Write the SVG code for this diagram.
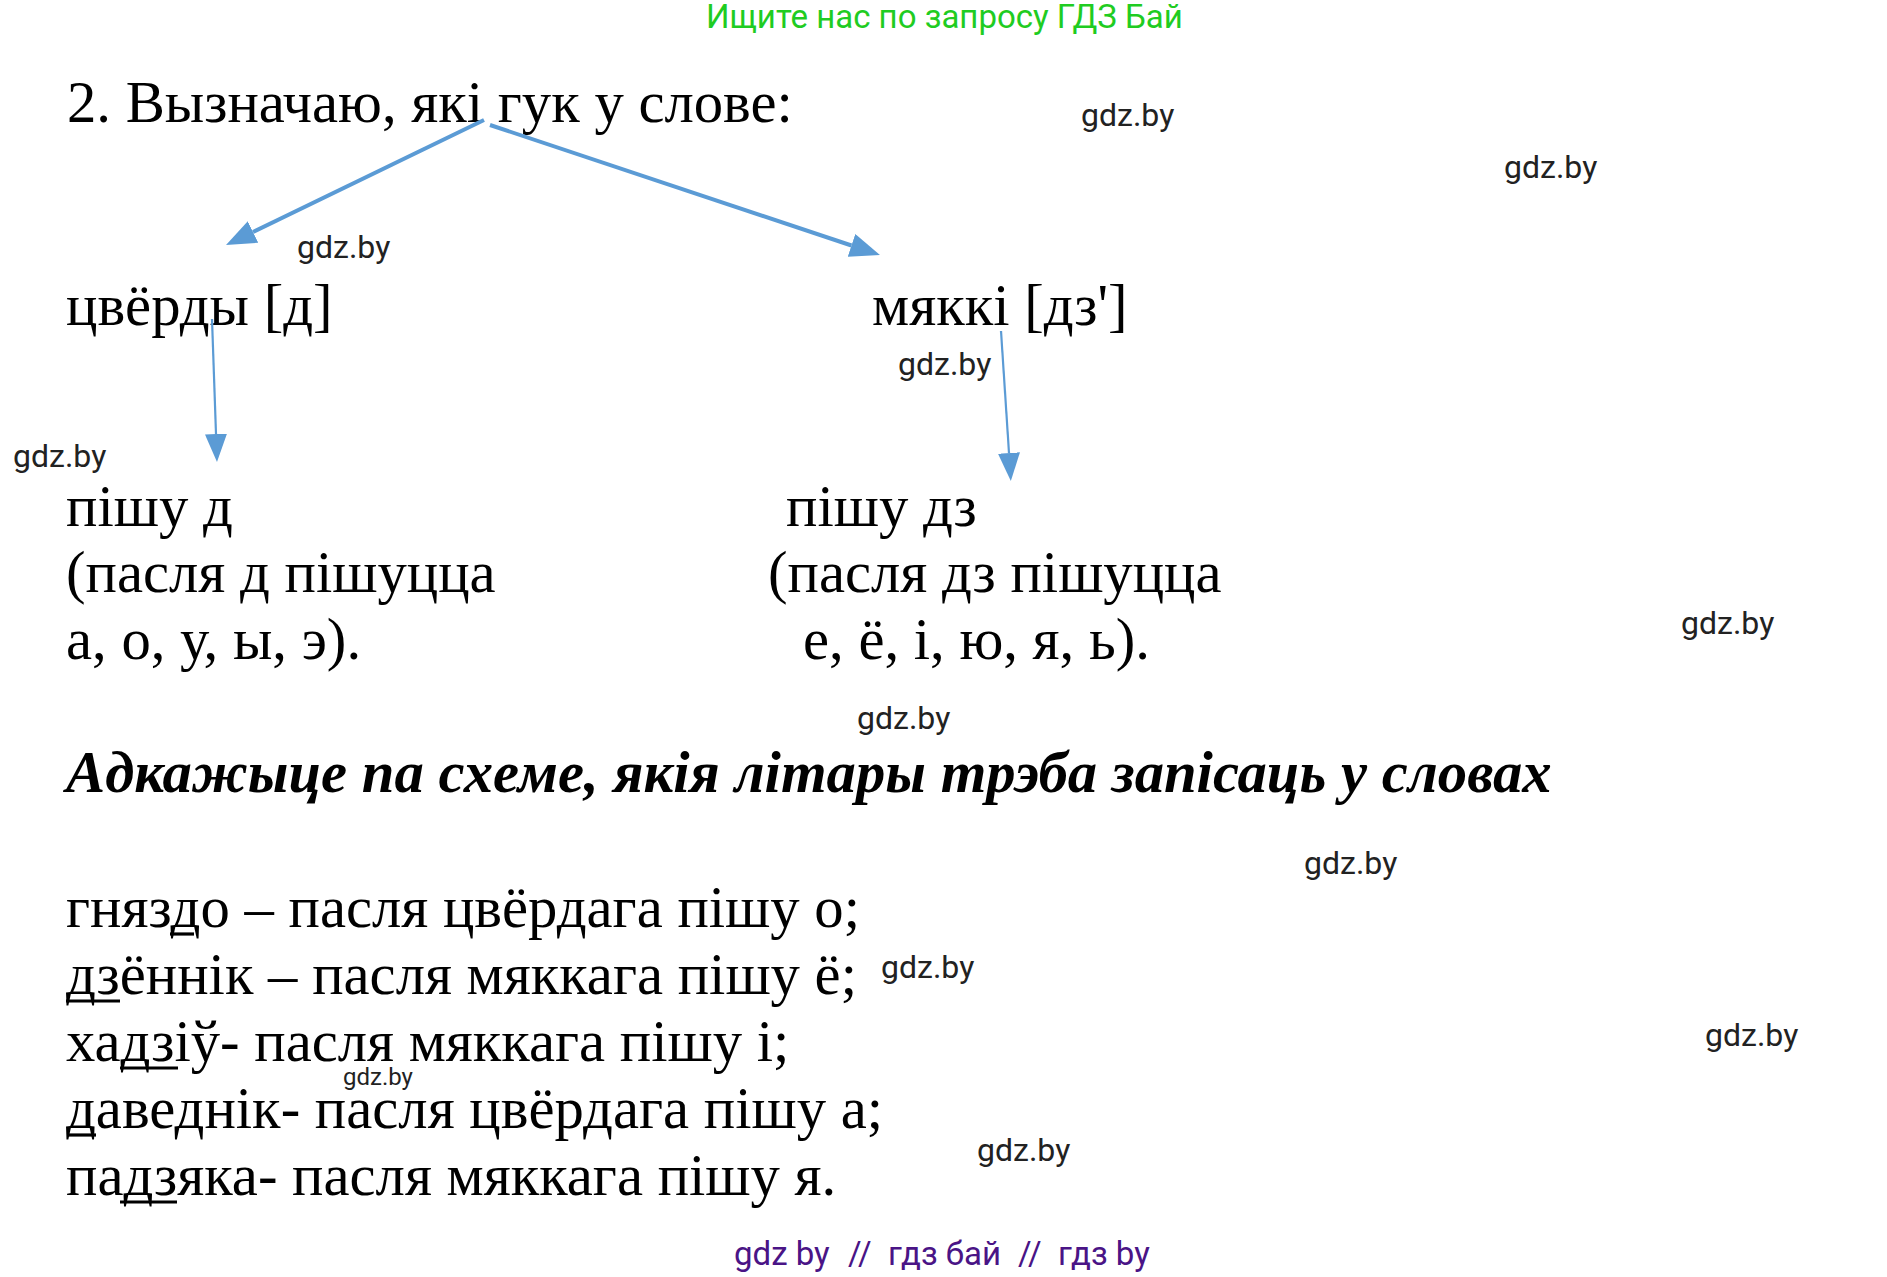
<svg xmlns="http://www.w3.org/2000/svg" width="1887" height="1277" viewBox="0 0 1887 1277">
<style>
.t{font-family:"Liberation Serif","Times New Roman",serif;font-size:58.7px;fill:#000}
.bi{font-family:"Liberation Serif","Times New Roman",serif;font-size:58.7px;font-weight:bold;font-style:italic;fill:#000}
.wm{font-family:Roboto,"Liberation Sans",sans-serif;font-size:32px;fill:#222}
.hd{font-family:Roboto,"Liberation Sans",sans-serif;font-size:33px;fill:#1fcc22}
.ft{font-family:Roboto,"Liberation Sans",sans-serif;font-size:33px;fill:#4a1486}
.ul{stroke:#000;stroke-width:3.2}
.a1{stroke:#5b9bd5;stroke-width:4;fill:none}
.a2{stroke:#5b9bd5;stroke-width:2.2;fill:none}
</style>
<defs>
<marker id="hb" markerUnits="userSpaceOnUse" markerWidth="30" markerHeight="24" refX="0" refY="12" orient="auto"><path d="M0,0 L30,12 L0,24 z" fill="#5b9bd5"/></marker>
<marker id="hs" markerUnits="userSpaceOnUse" markerWidth="28" markerHeight="22" refX="0" refY="11" orient="auto"><path d="M0,0 L28,11 L0,22 z" fill="#5b9bd5"/></marker>
</defs>
<rect width="1887" height="1277" fill="#fff"/>
<text class="hd" x="706" y="28">Ищите нас по запросу ГДЗ Бай</text>
<g id="title"><text class="t" x="67" y="122">2. Вызначаю, які гук у слове:</text></g>
<g id="hard"><text class="t" x="66" y="325">цвёрды [д]</text></g>
<g id="soft"><text class="t" x="872" y="325">мяккі [дз']</text></g>
<g id="hard-rule">
<text class="t" x="66" y="526">пішу д</text>
<text class="t" x="66" y="592">(пасля д пішуцца</text>
<text class="t" x="66" y="659">а, о, у, ы, э).</text>
</g>
<g id="soft-rule">
<text class="t" x="786" y="526">пішу дз</text>
<text class="t" x="768" y="592">(пасля дз пішуцца</text>
<text class="t" x="803" y="659">е, ё, і, ю, я, ь).</text>
</g>
<g id="connectors">
<path class="a1" d="M484,120 L253,232" marker-end="url(#hb)"/>
<path class="a1" d="M490,125 L851.5,245.5" marker-end="url(#hb)"/>
<path class="a2" d="M212,319 L216,434" marker-end="url(#hs)"/>
<path class="a2" d="M1001,331 L1009,453" marker-end="url(#hs)"/>
</g>
<g id="task"><text class="bi" x="66" y="792">Адкажыце па схеме, якія літары трэба запісаць у словах</text></g>
<g id="answers">
<text class="t" x="66" y="927">гняздо – пасля цвёрдага пішу о;</text>
<text class="t" x="66" y="994">дзённік – пасля мяккага пішу ё;</text>
<text class="t" x="66" y="1061">хадзіў- пасля мяккага пішу і;</text>
<text class="t" x="66" y="1128">даведнік- пасля цвёрдага пішу а;</text>
<text class="t" x="66" y="1195">падзяка- пасля мяккага пішу я.</text>
<line class="ul" x1="170" y1="934" x2="194" y2="934"/>
<line class="ul" x1="66" y1="1001" x2="120" y2="1001"/>
<line class="ul" x1="120" y1="1068" x2="178" y2="1068"/>
<line class="ul" x1="67" y1="1135" x2="96" y2="1135"/>
<line class="ul" x1="120" y1="1202" x2="177" y2="1202"/>
</g>
<g id="watermarks">
<text class="wm" x="1081" y="126">gdz.by</text>
<text class="wm" x="1504" y="178">gdz.by</text>
<text class="wm" x="297" y="258">gdz.by</text>
<text class="wm" x="898" y="375">gdz.by</text>
<text class="wm" x="13" y="467">gdz.by</text>
<text class="wm" x="1681" y="634">gdz.by</text>
<text class="wm" x="857" y="729">gdz.by</text>
<text class="wm" x="1304" y="874">gdz.by</text>
<text class="wm" x="881" y="978">gdz.by</text>
<text class="wm" x="1705" y="1046">gdz.by</text>
<text class="wm" x="343" y="1085" style="font-size:24px">gdz.by</text>
<text class="wm" x="977" y="1161">gdz.by</text>
</g>
<text class="ft" y="1265"><tspan x="734">gdz by</tspan><tspan x="848">//</tspan><tspan x="888">гдз бай</tspan><tspan x="1018">//</tspan><tspan x="1058">гдз by</tspan></text>
</svg>
